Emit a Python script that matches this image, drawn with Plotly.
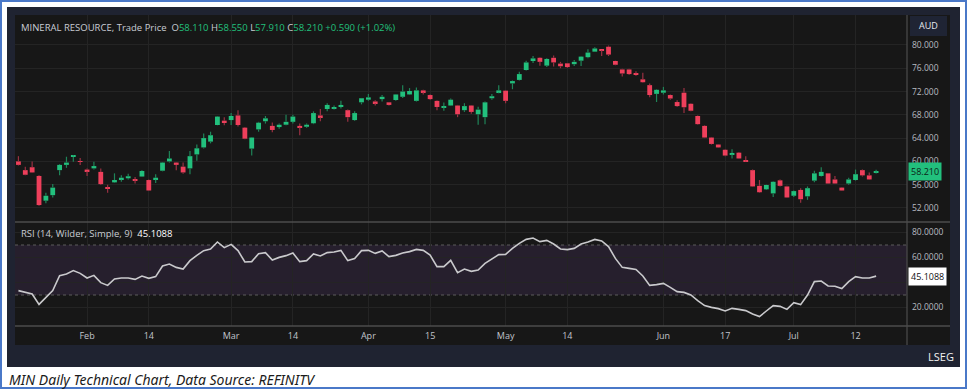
import plotly.graph_objects as go

W, H = 967, 389

dates = [
    "2024-01-17", "2024-01-18", "2024-01-19", "2024-01-22", "2024-01-23", "2024-01-24", "2024-01-25",
    "2024-01-29", "2024-01-30", "2024-01-31",
    "2024-02-01", "2024-02-02", "2024-02-05", "2024-02-06", "2024-02-07", "2024-02-08", "2024-02-09",
    "2024-02-12", "2024-02-13", "2024-02-14", "2024-02-15", "2024-02-16", "2024-02-19", "2024-02-20",
    "2024-02-21", "2024-02-22", "2024-02-23", "2024-02-26", "2024-02-27", "2024-02-28", "2024-02-29",
    "2024-03-01", "2024-03-04", "2024-03-05", "2024-03-06", "2024-03-07", "2024-03-08", "2024-03-11",
    "2024-03-12", "2024-03-13", "2024-03-14", "2024-03-15", "2024-03-18", "2024-03-19", "2024-03-20",
    "2024-03-21", "2024-03-22", "2024-03-25", "2024-03-26", "2024-03-27", "2024-03-28",
    "2024-04-02", "2024-04-03", "2024-04-04", "2024-04-05", "2024-04-08", "2024-04-09", "2024-04-10",
    "2024-04-11", "2024-04-12", "2024-04-15", "2024-04-16", "2024-04-17", "2024-04-18", "2024-04-19",
    "2024-04-22", "2024-04-23", "2024-04-24", "2024-04-26", "2024-04-29", "2024-04-30",
    "2024-05-01", "2024-05-02", "2024-05-03", "2024-05-06", "2024-05-07", "2024-05-08", "2024-05-09",
    "2024-05-10", "2024-05-13", "2024-05-14", "2024-05-15", "2024-05-16", "2024-05-17", "2024-05-20",
    "2024-05-21", "2024-05-22", "2024-05-23", "2024-05-24", "2024-05-27", "2024-05-28", "2024-05-29",
    "2024-05-30", "2024-05-31",
    "2024-06-03", "2024-06-04", "2024-06-05", "2024-06-06", "2024-06-07", "2024-06-11", "2024-06-12",
    "2024-06-13", "2024-06-14", "2024-06-17", "2024-06-18", "2024-06-19", "2024-06-20", "2024-06-21",
    "2024-06-24", "2024-06-25", "2024-06-26", "2024-06-27", "2024-06-28",
    "2024-07-01", "2024-07-02", "2024-07-03", "2024-07-04", "2024-07-05", "2024-07-08", "2024-07-09",
    "2024-07-10", "2024-07-11", "2024-07-12", "2024-07-15", "2024-07-16", "2024-07-17",
]

open_ = [
    60.0, 58.5, 59.0, 57.5, 53.25, 54.2, 58.5, 59.4, 60.8, 60.0,
    58.6, 58.8, 58.2, 55.5, 56.4, 56.9, 57.1, 56.9, 57.4, 56.8,
    56.9, 58.4, 60.0, 59.8, 59.1, 58.8, 61.2, 62.4, 63.4, 66.25,
    67.0, 67.1, 67.9, 65.8, 62.2, 65.5, 66.9, 66.1, 65.9, 66.3,
    66.8, 66.1, 65.95, 66.55, 67.9, 69.0, 69.1, 69.4, 68.8, 67.1,
    70.15, 70.6, 70.3, 70.7, 70.15, 70.55, 71.1, 71.5, 70.4, 72.2,
    71.4, 70.4, 69.3, 69.6, 69.6, 68.8, 69.6, 68.1, 67.6, 70.85,
    71.9, 72.15, 73.4, 74.0, 75.7, 77.25, 77.8, 76.45, 77.8, 76.8,
    76.85, 76.7, 77.3, 77.9, 78.85, 79.2, 79.7, 77.25, 75.8, 75.8,
    75.1, 74.1, 73.1, 71.6, 71.8, 71.4, 70.2, 71.8, 69.9, 67.8,
    66.1, 64.1, 62.9, 62.0, 61.25, 61.5, 60.15, 58.5, 55.8, 55.2,
    54.5, 56.75, 55.7, 54.1, 55.1, 54.0, 56.7, 57.5, 57.95, 56.9,
    55.5, 56.2, 56.8, 58.5, 57.6, 58.11,
]
high = [
    60.9, 59.1, 60.0, 57.6, 54.6, 56.1, 59.5, 60.8, 61.1, 60.6,
    58.8, 59.95, 58.8, 56.0, 57.95, 57.6, 57.9, 57.3, 58.5, 56.9,
    57.8, 59.9, 61.8, 59.9, 59.8, 61.8, 62.9, 64.8, 65.1, 67.8,
    67.6, 68.3, 68.8, 65.9, 64.2, 66.8, 67.8, 66.7, 66.5, 68.0,
    68.0, 66.5, 66.5, 68.6, 69.0, 70.0, 69.6, 70.4, 68.9, 68.6,
    70.9, 71.6, 70.5, 71.4, 70.2, 71.6, 73.1, 72.6, 72.7, 72.3,
    71.5, 70.5, 70.1, 70.8, 69.7, 70.0, 69.7, 69.4, 70.3, 71.6,
    73.1, 72.2, 73.9, 75.4, 77.3, 78.1, 77.9, 77.7, 78.2, 77.1,
    76.9, 77.4, 78.1, 79.25, 79.6, 79.2, 79.9, 77.3, 75.9, 75.9,
    75.5, 75.25, 73.4, 72.4, 72.8, 71.5, 70.5, 72.6, 70.0, 67.9,
    66.2, 64.2, 63.0, 62.1, 62.1, 61.6, 60.9, 58.6, 56.8, 56.0,
    56.6, 56.9, 55.8, 55.0, 55.4, 55.7, 58.4, 59.0, 58.0, 57.5,
    55.6, 57.2, 58.6, 58.6, 58.1, 58.55,
]
low = [
    59.3, 57.6, 58.0, 52.4, 52.8, 53.8, 57.6, 58.9, 59.95, 59.4,
    57.5, 58.6, 56.0, 54.6, 56.3, 56.5, 56.9, 56.2, 57.3, 54.9,
    56.3, 58.3, 59.8, 58.5, 57.9, 57.8, 60.1, 62.2, 63.1, 66.2,
    66.2, 66.25, 66.0, 63.8, 61.0, 65.1, 66.5, 65.0, 65.6, 66.2,
    66.5, 64.5, 65.8, 66.4, 66.9, 68.6, 68.9, 69.1, 66.8, 67.0,
    69.8, 70.4, 69.6, 70.3, 69.6, 70.4, 70.9, 71.4, 70.3, 71.5,
    70.6, 68.8, 68.7, 69.5, 67.6, 68.5, 68.2, 66.3, 66.4, 70.6,
    71.7, 70.0, 72.4, 73.9, 75.6, 76.9, 76.45, 76.2, 76.3, 76.0,
    76.1, 76.4, 76.4, 77.7, 78.8, 78.1, 78.1, 76.5, 74.6, 74.9,
    74.7, 73.5, 71.0, 70.2, 71.5, 70.6, 69.4, 68.3, 68.6, 66.3,
    64.0, 62.9, 62.3, 60.9, 60.5, 60.4, 60.0, 55.6, 54.6, 55.1,
    53.9, 55.7, 53.7, 53.9, 52.9, 53.4, 56.4, 57.4, 56.1, 56.1,
    54.9, 56.0, 56.7, 57.4, 56.8, 57.91,
]
close = [
    59.4, 57.7, 58.1, 52.5, 54.1, 55.5, 59.4, 59.8, 60.95, 59.9,
    58.3, 59.2, 56.1, 55.3, 56.8, 57.2, 57.45, 56.75, 58.35, 55.0,
    57.2, 59.8, 60.5, 59.4, 58.1, 60.9, 62.25, 64.0, 64.5, 67.7,
    66.6, 67.8, 66.25, 63.9, 64.1, 66.65, 67.4, 65.4, 66.3, 66.8,
    67.7, 65.85, 66.3, 68.3, 67.6, 69.7, 69.3, 69.7, 67.6, 68.3,
    70.85, 71.0, 70.0, 71.1, 69.7, 71.5, 72.0, 72.1, 72.2, 71.9,
    70.7, 69.35, 69.45, 70.6, 68.1, 69.5, 68.5, 68.9, 70.15, 71.2,
    72.2, 70.4, 73.8, 75.0, 77.0, 77.7, 77.1, 77.6, 77.0, 76.35,
    76.2, 77.1, 78.0, 78.7, 79.4, 79.1, 78.35, 76.6, 75.1, 75.0,
    74.85, 73.6, 71.4, 72.3, 72.2, 70.8, 69.5, 69.3, 68.7, 66.4,
    64.1, 63.0, 62.4, 61.0, 61.45, 60.5, 60.05, 55.7, 54.7, 55.95,
    56.5, 55.8, 53.8, 54.9, 53.5, 55.4, 57.95, 58.2, 56.2, 56.2,
    55.0, 56.9, 57.8, 57.6, 56.9, 58.21,
]
rsi = [
    33.5, 31.9, 30.8, 22.5, 28.1, 33.5, 45.5, 46.8, 49.5, 47.3,
    43.6, 45.7, 39.9, 37.7, 42.8, 43.6, 43.6, 42.5, 45.2, 43.3,
    44.7, 53.2, 54.8, 52.1, 50.8, 57.5, 61.7, 65.5, 66.8, 72.4,
    67.9, 70.5, 65.5, 56.4, 56.7, 63.1, 63.9, 58.0, 60.1, 61.5,
    63.6, 56.7, 57.5, 62.8, 61.2, 63.9, 64.4, 65.7, 57.5, 59.1,
    65.5, 65.7, 63.3, 65.2, 60.7, 61.7, 63.6, 64.7, 66.5, 65.7,
    62.0, 52.7, 52.7, 57.7, 47.9, 50.8, 48.9, 50.0, 55.3, 59.1,
    62.3, 62.5, 67.3, 71.3, 74.5, 75.6, 72.7, 73.7, 70.8, 66.8,
    66.3, 67.3, 70.8, 72.4, 74.5, 73.2, 68.7, 59.3, 52.1, 51.3,
    50.5, 45.2, 37.7, 38.3, 39.3, 36.1, 32.7, 32.1, 30.0, 25.5,
    21.5, 20.1, 19.1, 17.2, 19.3, 18.5, 17.5, 14.8, 12.7, 17.2,
    21.5, 20.9, 18.5, 23.9, 22.3, 30.0, 40.7, 41.2, 37.2, 37.0,
    35.1, 40.7, 44.7, 43.6, 43.6, 45.1088,
]

tick_dates = ["2024-02-01", "2024-02-14", "2024-03-01", "2024-03-14", "2024-04-02", "2024-04-15",
              "2024-05-01", "2024-05-14", "2024-06-03", "2024-06-17", "2024-07-01", "2024-07-12"]
tick_labels = ["Feb", "14", "Mar", "14", "Apr", "15", "May", "14", "Jun", "17", "Jul", "12"]
price_ticks = [52, 56, 60, 64, 68, 72, 76, 80]
rsi_ticks = [20, 40, 60, 80]

last_open, last_high, last_low, last_close = 58.110, 58.550, 57.910, 58.210
change, change_pct = 0.590, 1.02
rsi_last = 45.1088

GREEN = "#22c07d"
RED = "#ee3f5b"
GREEN_WICK = "#1f8458"
RED_WICK = "#9a3042"
BG = "#171717"
FRAME = "#1f2331"
GRID = "#242424"
TXT = "#b8bbc2"


def px(x):
    return x / W


def py(y):
    return 1 - y / H


body_top = [max(o, c) for o, c in zip(open_, close)]
body_bot = [min(o, c) for o, c in zip(open_, close)]
body_h = [max(t - b, 0.08) for t, b in zip(body_top, body_bot)]
is_up = [c >= o for o, c in zip(open_, close)]
body_col = [GREEN if u else RED for u in is_up]


def wick_xy(up_flag):
    xs, ys = [], []
    for d, hi, lo, t, b, u in zip(dates, high, low, body_top, body_bot, is_up):
        if u != up_flag:
            continue
        xs += [d, d, None, d, d, None]
        ys += [hi, t, None, b, lo, None]
    return xs, ys


fig = go.Figure()
fig.add_trace(go.Bar(
    x=dates, y=body_h, base=body_bot, marker=dict(color=body_col, line=dict(width=0)),
    width=0.7, xaxis="x", yaxis="y", showlegend=False, hoverinfo="skip",
))
for up_flag, col in ((True, GREEN_WICK), (False, RED_WICK)):
    wx, wy = wick_xy(up_flag)
    fig.add_trace(go.Scatter(
        x=wx, y=wy, mode="lines", line=dict(color=col, width=1.2), connectgaps=False,
        xaxis="x", yaxis="y", showlegend=False, hoverinfo="skip",
    ))
fig.add_trace(go.Scatter(
    x=dates, y=rsi, mode="lines", line=dict(color="#c9c9cc", width=1.6),
    xaxis="x2", yaxis="y2", showlegend=False, hoverinfo="skip",
))

xdom = [px(15), px(907)]
common_x = dict(type="category", domain=xdom, range=[-0.5, 129.5], tickvals=tick_dates,
                categoryorder="array", categoryarray=dates,
                showgrid=True, gridcolor=GRID, gridwidth=1, zeroline=False, showline=False,
                ticks="", fixedrange=True)

shapes = [
    dict(type="rect", xref="paper", yref="paper", x0=px(1), x1=px(966), y0=py(388), y1=py(1),
         line=dict(color="#4a78c8", width=2), fillcolor="white", layer="below"),
    dict(type="rect", xref="paper", yref="paper", x0=px(7), x1=px(960), y0=py(367), y1=py(7),
         line=dict(width=0), fillcolor=FRAME, layer="below"),
    dict(type="rect", xref="paper", yref="paper", x0=px(15), x1=px(950), y0=py(345), y1=py(15),
         line=dict(width=0), fillcolor=BG, layer="below"),
    dict(type="rect", xref="paper", yref="y2", x0=px(15), x1=px(907), y0=30, y1=70,
         line=dict(width=0), fillcolor="#261f2d", layer="below"),
    dict(type="line", xref="paper", yref="y2", x0=px(15), x1=px(907), y0=70, y1=70,
         line=dict(color="#5c5c5c", width=1, dash="3px,3px"), layer="below"),
    dict(type="line", xref="paper", yref="y2", x0=px(15), x1=px(907), y0=30, y1=30,
         line=dict(color="#5c5c5c", width=1, dash="3px,3px"), layer="below"),
    dict(type="line", xref="paper", yref="paper", x0=px(15), x1=px(950), y0=py(222), y1=py(222),
         line=dict(color="#4c4c4c", width=1.5), layer="above"),
    dict(type="line", xref="paper", yref="paper", x0=px(15), x1=px(950), y0=py(326), y1=py(326),
         line=dict(color="#4c4c4c", width=1.5), layer="above"),
    dict(type="line", xref="paper", yref="paper", x0=px(907), x1=px(907), y0=py(345), y1=py(15),
         line=dict(color="#4c4c4c", width=1.2), layer="above"),
    dict(type="rect", xref="paper", yref="paper", x0=px(910), x1=px(947), y0=py(36), y1=py(16),
         line=dict(width=0), fillcolor="#1f2434", layer="above"),
]

g = f"color:{GREEN}"
w = "color:#c9ccd3"
title = (f"<span style='{w}'>MINERAL RESOURCE, Trade Price</span>  "
         f"<span style='{w}'>O</span><span style='{g}'>{last_open:.3f}</span> "
         f"<span style='{w}'>H</span><span style='{g}'>{last_high:.3f}</span> "
         f"<span style='{w}'>L</span><span style='{g}'>{last_low:.3f}</span> "
         f"<span style='{w}'>C</span><span style='{g}'>{last_close:.3f}</span> "
         f"<span style='{g}'>+{change:.3f} (+{change_pct:.2f}%)</span>")

annotations = [
    dict(text=title, xref="paper", yref="paper", x=px(19), y=py(27), xanchor="left", yanchor="middle",
         showarrow=False, font=dict(family="Open Sans", size=9.5, color="#c9ccd3")),
    dict(text=f"<span style='{w}'>RSI (14, Wilder, Simple, 9)</span>  "
              f"<span style='color:#ffffff'>{rsi_last:.4f}</span>",
         xref="paper", yref="paper", x=px(19), y=py(234), xanchor="left", yanchor="middle",
         showarrow=False, font=dict(family="Open Sans", size=9.5, color="#c9ccd3")),
    dict(text=f"{last_close:.3f}", xref="paper", yref="y", x=px(908), y=last_close, xanchor="left",
         yanchor="middle", showarrow=False, bgcolor=GREEN, borderpad=2,
         font=dict(family="Open Sans", size=9, color="#0d2418")),
    dict(text=f"{rsi_last:.4f}", xref="paper", yref="y2", x=px(908), y=rsi_last, xanchor="left",
         yanchor="middle", showarrow=False, bgcolor="#ffffff", borderpad=2,
         font=dict(family="Open Sans", size=9, color="#111111")),
    dict(text="AUD", xref="paper", yref="paper", x=px(928.5), y=py(26), xanchor="center",
         yanchor="middle", showarrow=False, font=dict(family="Open Sans", size=9, color="#e6e8ee")),
    dict(text="LSEG", xref="paper", yref="paper", x=px(956), y=py(356), xanchor="right",
         yanchor="middle", showarrow=False, font=dict(family="Open Sans", size=11, color="#f2f2f2")),
    dict(text="<i>MIN Daily Technical Chart, Data Source: REFINITV</i>", xref="paper", yref="paper",
         x=px(7), y=py(379), xanchor="left", yanchor="middle", showarrow=False,
         font=dict(family="Noto Sans", size=14, color="#1b1b1b")),
]

fig.update_layout(
    width=W, height=H, autosize=False,
    margin=dict(l=0, r=0, t=0, b=0, pad=0),
    paper_bgcolor="white", plot_bgcolor="rgba(0,0,0,0)",
    showlegend=False, barmode="overlay", hovermode=False,
    font=dict(family="Open Sans", size=9, color=TXT),
    xaxis=dict(**common_x, anchor="y", showticklabels=False, matches="x2"),
    xaxis2=dict(**common_x, anchor="y2", showticklabels=True, ticktext=tick_labels,
                ticklabelstandoff=3, tickfont=dict(family="Open Sans", size=9, color="#c2c5cc")),
    yaxis=dict(domain=[py(222), py(15)], range=[49.59, 85.15], side="right", anchor="x",
               tickvals=price_ticks, tickformat=".3f", showgrid=True, gridcolor=GRID,
               zeroline=False, showline=False, ticks="", ticklabelstandoff=4,
               tickfont=dict(family="Open Sans", size=8.5, color=TXT), fixedrange=True),
    yaxis2=dict(domain=[py(326), py(222)], range=[5.2, 88.4], side="right", anchor="x2",
                tickvals=rsi_ticks, tickformat=".4f", showgrid=True, gridcolor=GRID,
                zeroline=False, showline=False, ticks="", ticklabelstandoff=4,
                tickfont=dict(family="Open Sans", size=8.5, color=TXT), fixedrange=True),
    shapes=shapes, annotations=annotations,
)

fig.write_html("out.html", config={"displayModeBar": False},
               post_script="document.body.style.margin='0px';document.body.style.overflow='hidden';")
